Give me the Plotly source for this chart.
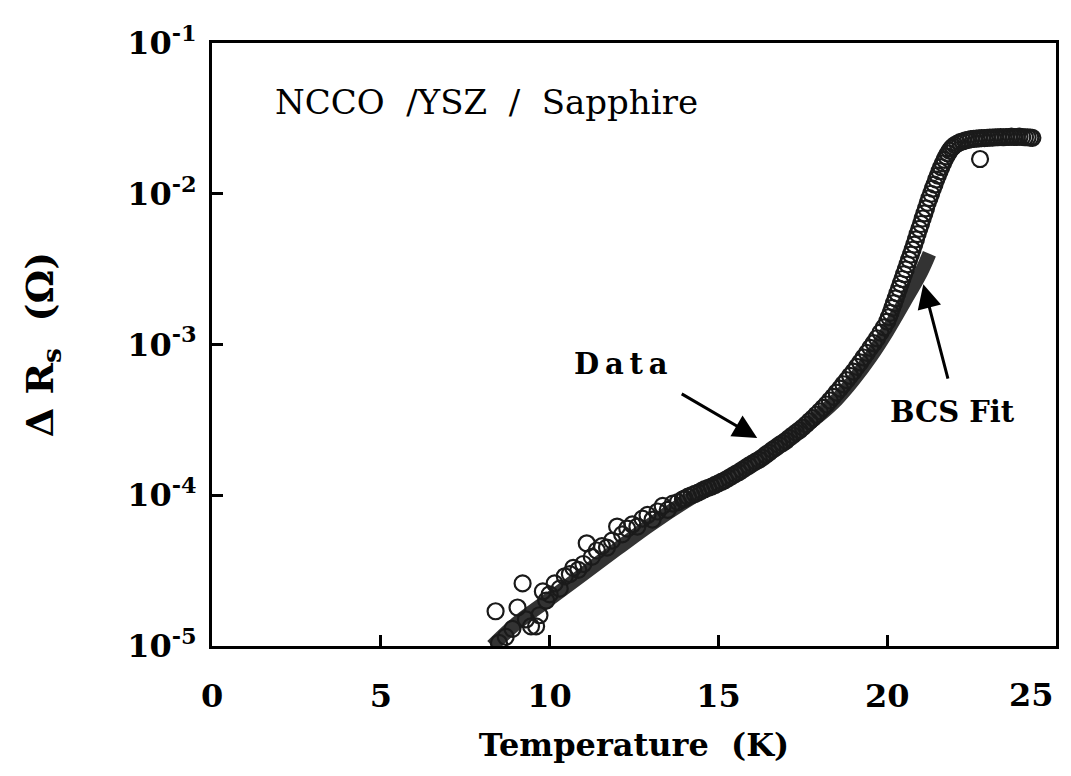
import plotly.graph_objects as go

# ---- Measured data (open circles), by temperature segment ----
low_T = [8.4, 8.5, 8.7, 8.9, 9.05, 9.2, 9.3, 9.45, 9.6, 9.7, 9.8, 9.9, 10.0, 10.15, 10.3,
         10.45, 10.6, 10.7, 10.85, 11.0, 11.1, 11.25, 11.4, 11.55, 11.7, 11.85, 12.0, 12.15,
         12.3, 12.45, 12.6, 12.75, 12.9, 13.05, 13.2, 13.35, 13.5, 13.65, 13.8, 13.95]
low_R = [1.7e-5, 1.05e-5, 1.15e-5, 1.3e-5, 1.8e-5, 2.6e-5, 1.5e-5, 1.35e-5, 1.35e-5, 1.6e-5,
         2.3e-5, 2.0e-5, 2.2e-5, 2.6e-5, 2.4e-5, 2.9e-5, 3.0e-5, 3.3e-5, 3.2e-5, 3.5e-5,
         4.8e-5, 3.9e-5, 4.3e-5, 4.6e-5, 4.5e-5, 5.0e-5, 6.2e-5, 5.5e-5, 6.0e-5, 6.4e-5,
         6.2e-5, 7.0e-5, 7.4e-5, 6.9e-5, 7.8e-5, 8.5e-5, 8.0e-5, 8.8e-5, 9.0e-5, 9.4e-5]

mid_T = [14.0, 14.1, 14.2, 14.3, 14.4, 14.5, 14.6, 14.7, 14.8, 14.9,
         15.0, 15.1, 15.2, 15.3, 15.4, 15.5, 15.6, 15.7, 15.8, 15.9,
         16.0, 16.1, 16.2, 16.3, 16.4, 16.5, 16.6, 16.7, 16.8, 16.9,
         17.0, 17.1, 17.2, 17.3, 17.4, 17.5, 17.6, 17.7, 17.8, 17.9,
         18.0, 18.1, 18.2, 18.3, 18.4, 18.5, 18.6, 18.7, 18.8, 18.9,
         19.0, 19.1, 19.2, 19.3, 19.4, 19.5, 19.6, 19.7, 19.8, 19.9, 20.0]
mid_R = [9.5e-5, 9.8e-5, 1.0e-4, 1.02e-4, 1.04e-4, 1.07e-4, 1.1e-4, 1.12e-4, 1.14e-4, 1.17e-4,
         1.2e-4, 1.23e-4, 1.26e-4, 1.3e-4, 1.34e-4, 1.38e-4, 1.42e-4, 1.47e-4, 1.52e-4, 1.57e-4,
         1.62e-4, 1.67e-4, 1.72e-4, 1.78e-4, 1.85e-4, 1.92e-4, 2.0e-4, 2.07e-4, 2.15e-4, 2.22e-4,
         2.3e-4, 2.4e-4, 2.5e-4, 2.6e-4, 2.7e-4, 2.82e-4, 2.95e-4, 3.1e-4, 3.25e-4, 3.42e-4,
         3.6e-4, 3.8e-4, 4.0e-4, 4.25e-4, 4.5e-4, 4.8e-4, 5.1e-4, 5.45e-4, 5.8e-4, 6.2e-4,
         6.6e-4, 7.1e-4, 7.6e-4, 8.2e-4, 8.8e-4, 9.5e-4, 1.02e-3, 1.1e-3, 1.2e-3, 1.3e-3, 1.42e-3]

rise_T = [20.05, 20.1, 20.15, 20.2, 20.25, 20.3, 20.35, 20.4, 20.45, 20.5,
          20.55, 20.6, 20.65, 20.7, 20.75, 20.8, 20.85, 20.9, 20.95, 21.0,
          21.05, 21.1, 21.15, 21.2, 21.25, 21.3, 21.35, 21.4, 21.45, 21.5,
          21.55, 21.6, 21.65, 21.7, 21.75, 21.8, 21.85, 21.9, 21.95, 22.0]
rise_R = [1.52e-3, 1.62e-3, 1.75e-3, 1.88e-3, 2.02e-3, 2.18e-3, 2.35e-3, 2.53e-3, 2.72e-3, 2.93e-3,
          3.15e-3, 3.4e-3, 3.66e-3, 3.95e-3, 4.25e-3, 4.6e-3, 4.98e-3, 5.4e-3, 5.85e-3, 6.3e-3,
          6.85e-3, 7.4e-3, 8.0e-3, 8.7e-3, 9.35e-3, 1.0e-2, 1.08e-2, 1.15e-2, 1.24e-2, 1.32e-2,
          1.41e-2, 1.5e-2, 1.59e-2, 1.68e-2, 1.77e-2, 1.85e-2, 1.93e-2, 2.0e-2, 2.05e-2, 2.1e-2]

top_T = [22.08, 22.16, 22.24, 22.32, 22.4, 22.48, 22.56, 22.64, 22.72, 22.75,
         22.8, 22.88, 22.96, 23.04, 23.12, 23.2, 23.28, 23.36, 23.44, 23.52,
         23.6, 23.68, 23.76, 23.84, 23.92, 24.0, 24.08, 24.16, 24.24, 24.3]
top_R = [2.15e-2, 2.2e-2, 2.23e-2, 2.26e-2, 2.28e-2, 2.3e-2, 2.31e-2, 2.32e-2, 2.33e-2, 1.7e-2,
         2.34e-2, 2.34e-2, 2.35e-2, 2.36e-2, 2.36e-2, 2.37e-2, 2.37e-2, 2.38e-2, 2.37e-2, 2.38e-2,
         2.38e-2, 2.39e-2, 2.38e-2, 2.38e-2, 2.39e-2, 2.38e-2, 2.37e-2, 2.37e-2, 2.36e-2, 2.35e-2]

data_T = low_T + mid_T + rise_T + top_T
data_R = low_R + mid_R + rise_R + top_R

# ---- BCS fit curve ----
fit_T = [8.3, 9.0, 10.0, 11.0, 12.0, 13.0, 14.0, 15.0, 16.0, 17.0, 18.0, 18.5, 19.0, 19.5,
         20.0, 20.5, 21.0, 21.25]
fit_R = [1.0e-5, 1.4e-5, 2.05e-5, 3.0e-5, 4.4e-5, 6.4e-5, 9.0e-5, 1.22e-4, 1.62e-4, 2.28e-4,
         3.4e-4, 4.3e-4, 5.8e-4, 8.2e-4, 1.22e-3, 1.9e-3, 3.0e-3, 4.0e-3]

x_ticks = [0, 5, 10, 15, 20, 25]
x_ticktext = ["0", "5", "10", "15", "20", ""]   # "25" drawn as a right-aligned label below
x_last_label = "25"
y_ticks = [1e-5, 1e-4, 1e-3, 1e-2, 1e-1]
y_ticktext = ["10<sup>-5</sup>", "10<sup>-4</sup>", "10<sup>-3</sup>", "10<sup>-2</sup>", "10<sup>-1</sup>"]

SERIF = "DejaVu Serif"
TICKFONT = dict(family=SERIF, size=32, color="black", weight="bold")

fig = go.Figure()
fig.add_trace(go.Scatter(x=fit_T, y=fit_R, mode="lines",
                         line=dict(color="#333333", width=14, shape="spline"),
                         showlegend=False, hoverinfo="skip"))
fig.add_trace(go.Scatter(x=data_T, y=data_R, mode="markers",
                         marker=dict(symbol="circle-open", size=16, color="#1a1a1a",
                                     line=dict(width=2.2, color="#1a1a1a")),
                         showlegend=False))

fig.update_xaxes(range=[0, 25], tickvals=x_ticks, ticktext=x_ticktext,
                 ticks="inside", ticklen=11, tickwidth=3, tickcolor="black",
                 showline=True, linewidth=3, linecolor="black", mirror=True,
                 showgrid=False, zeroline=False,
                 ticklabelstandoff=20,
                 tickfont=TICKFONT,
                 title=dict(text="Temperature  (K)", standoff=20,
                            font=dict(family=SERIF, size=32, color="black", weight="bold")))
fig.update_yaxes(type="log", range=[-5, -1], tickvals=y_ticks, ticktext=y_ticktext,
                 ticks="inside", ticklen=11, tickwidth=3, tickcolor="black",
                 showline=True, linewidth=3, linecolor="black", mirror=True,
                 showgrid=False, zeroline=False,
                 ticklabelstandoff=6,
                 tickfont=TICKFONT,
                 title=dict(text="Δ R<sub>s</sub>  (Ω)", standoff=62,
                            font=dict(family=SERIF, size=38, color="black", weight="bold")))

annotations = [
    dict(x=x_ticks[-1], y=-0.082, xref="x", yref="paper", text=x_last_label, showarrow=False,
         xanchor="right", yanchor="middle", font=TICKFONT),
    dict(x=1.8, y=-1.39, xref="x", yref="y", text="NCCO  /YSZ  /  Sapphire", showarrow=False,
         xanchor="left", yanchor="middle",
         font=dict(family=SERIF, size=34, color="black")),
    dict(x=12.1, y=-3.13, xref="x", yref="y", text="D\u2009a\u2009t\u2009a", showarrow=False,
         xanchor="center", yanchor="middle",
         font=dict(family=SERIF, size=29, color="black", weight="bold")),
    dict(x=21.92, y=-3.45, xref="x", yref="y", text="BCS Fit", showarrow=False,
         xanchor="center", yanchor="middle",
         font=dict(family=SERIF, size=29, color="black", weight="bold")),
    dict(x=16.15, y=-3.62, xref="x", yref="y", text="", showarrow=True,
         ax=-77, ay=-45, arrowhead=2, arrowsize=1.6, arrowwidth=3, arrowcolor="black"),
    dict(x=21.07, y=-2.60, xref="x", yref="y", text="", showarrow=True,
         ax=25, ay=96, arrowhead=2, arrowsize=1.6, arrowwidth=3, arrowcolor="black"),
]
fig.update_layout(width=1063, height=768, margin=dict(l=204, r=15, t=30, b=130),
                  paper_bgcolor="white", plot_bgcolor="white",
                  annotations=annotations)

fig.write_html("out.html")
